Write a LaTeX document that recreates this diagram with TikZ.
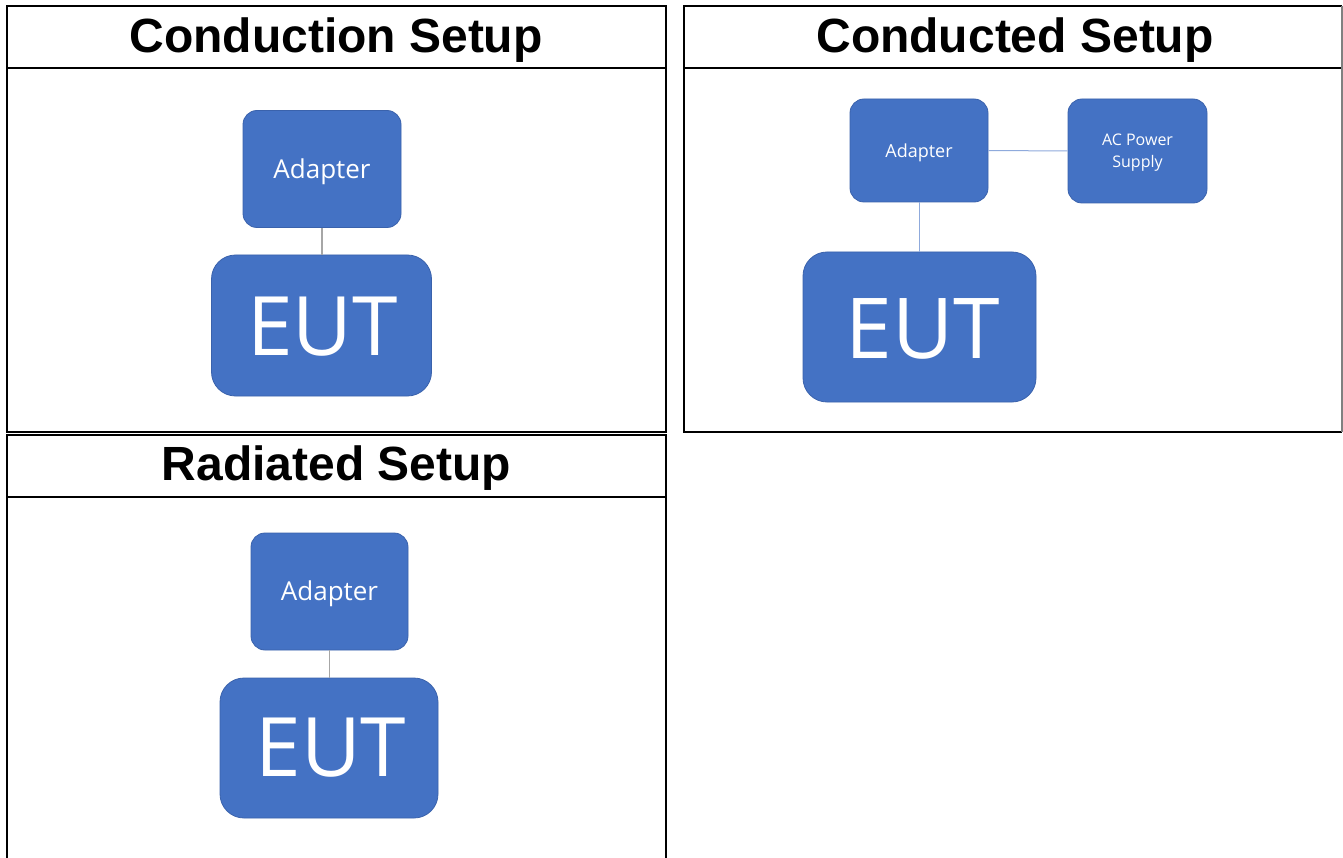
\documentclass[tikz,border=0pt]{standalone}
\usepackage{fontspec}
\setmainfont{Liberation Sans}
\newfontfamily\boxfont{Open Sans}
\definecolor{boxblue}{HTML}{4472C4}
\definecolor{boxedge}{HTML}{3A62AC}
\definecolor{linkgray}{HTML}{A6A6A6}
\definecolor{linkblue}{HTML}{8FAADC}
\begin{document}
\begin{tikzpicture}[x=1pt,y=-1pt,
  frame/.style={draw=black,line width=1.6pt},
  title/.style={font=\fontsize{48}{54}\selectfont\bfseries},
  box/.style={fill=boxblue,draw=boxedge,line width=0.8pt,inner sep=0pt},
  small/.style={box,rounded corners=14pt},
  big/.style={box,rounded corners=24pt},
  lbl/.style={text=white,inner sep=0pt,font=\boxfont\fontsize{26}{30}\selectfont},
  biglbl/.style={text=white,inner sep=0pt,font=\boxfont\fontsize{82}{90}\selectfont},
  graylink/.style={draw=linkgray,line width=1.4pt},
  bluelink/.style={draw=linkblue,line width=1pt}]
\useasboundingbox (0,0) rectangle (1343,858);
\fill[white] (0,0) rectangle (1343,858);
% panel 1
\draw[frame] (7,6) rectangle (666,432);
\draw[frame] (7,68) -- (666,68);
\node[title] (t1) at (336,40.5) {Conduction Setup};
% panel 2
\draw[frame] (1342,6) -- (684,6) -- (684,432) -- (1342,432);
\draw[frame] (684,68) -- (1342,68);
\draw[draw=gray,line width=1.2pt] (1342,6) -- (1342,432);
\node[title] (t2) at (1015,40.5) {Conducted Setup};
% panel 3
\draw[frame] (7,858) -- (7,435) -- (666,435) -- (666,858);
\draw[frame] (7,497) -- (666,497);
\node[title] (t3) at (336.5,468.5) {Radiated Setup};
% panel 1 boxes
\node[small,minimum width=158pt,minimum height=117pt] (a1) at (322,169) {};
\node[lbl] (a1t) at ([yshift=-2.5pt]a1.center) {Adapter};
\node[big,minimum width=220pt,minimum height=141pt] (e1) at (321.5,325.5) {};
\node[biglbl] (e1t) at ([yshift=-1.5pt,xshift=1pt]e1.center) {EUT};
\draw[graylink] (a1.south) -- (a1.south |- e1.north);
% panel 2 boxes
\node[small,minimum width=138pt,minimum height=103pt] (a2) at (919,150.5) {};
\node[lbl,font=\boxfont\fontsize{18}{20}\selectfont] (a2t) at ([yshift=-2pt]a2.center) {Adapter};
\node[small,minimum width=139pt,minimum height=104pt] (p2) at (1137.5,151) {};
\node[lbl,align=center,font=\boxfont\fontsize{16}{22}\selectfont] (p2t) at ([yshift=-2pt]p2.center) {AC Power\\Supply};
\node[big,minimum width=233pt,minimum height=150pt] (e2) at (919.5,327) {};
\node[biglbl,font=\boxfont\fontsize{84}{90}\selectfont] (e2t) at ([yshift=-1.5pt,xshift=3pt]e2.center) {EUT};
\draw[bluelink] (a2.east) -- (p2.west);
\draw[bluelink] (a2.south) -- (a2.south |- e2.north);
% panel 3 boxes
\node[small,minimum width=157pt,minimum height=117pt] (a3) at (329.5,591.5) {};
\node[lbl] (a3t) at ([yshift=-2.5pt]a3.center) {Adapter};
\node[big,minimum width=218pt,minimum height=140pt] (e3) at (329,748) {};
\node[biglbl] (e3t) at ([xshift=2pt]e3.center) {EUT};
\draw[graylink] (a3.south) -- (a3.south |- e3.north);
\end{tikzpicture}
\end{document}
